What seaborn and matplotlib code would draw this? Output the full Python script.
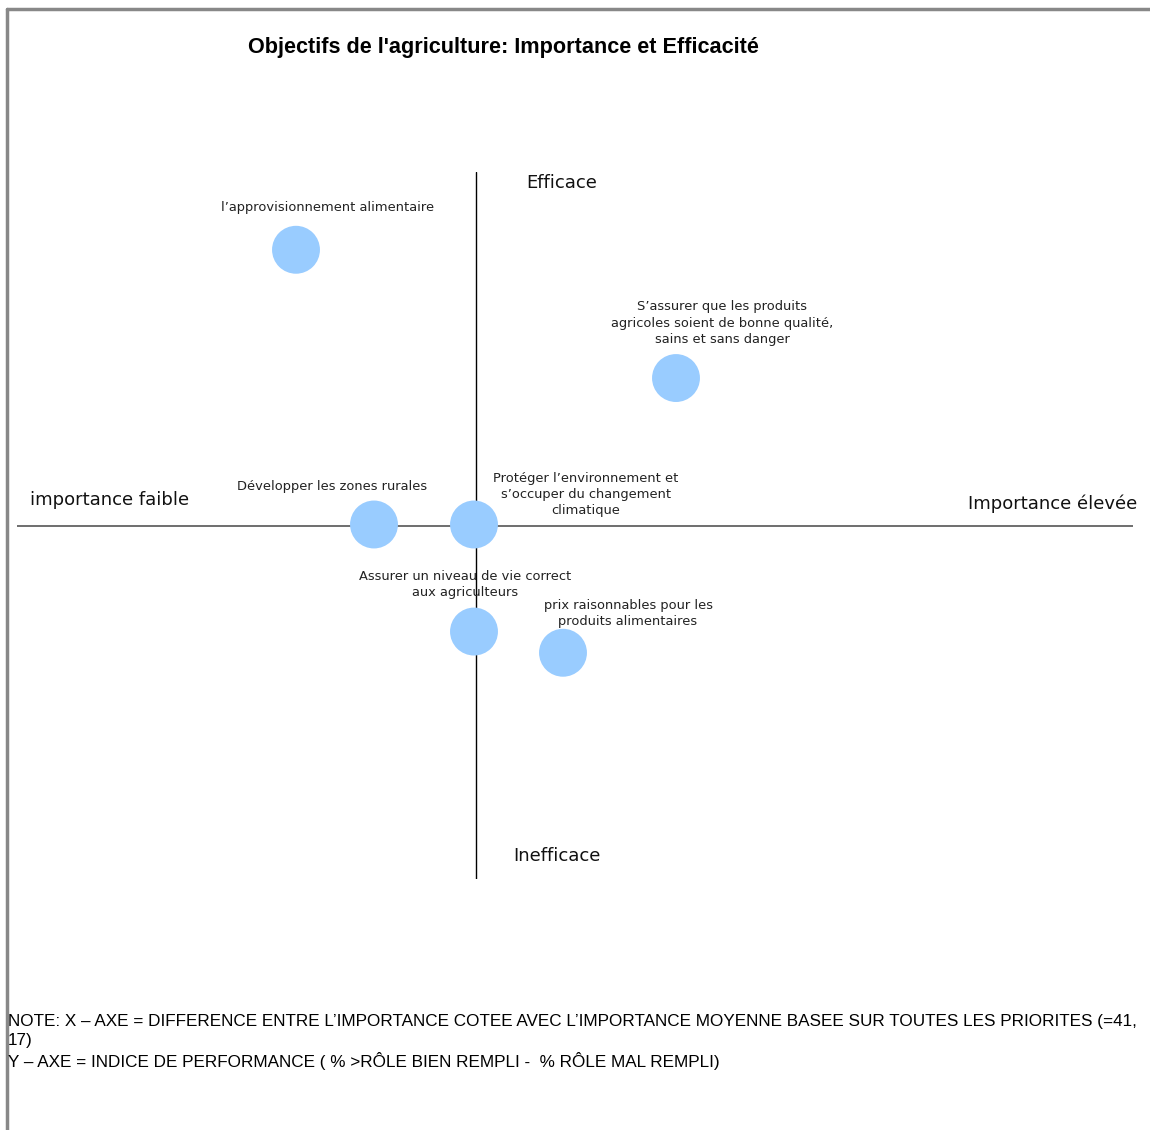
import pandas as pd
import matplotlib.pyplot as plt
import seaborn as sns
from matplotlib.lines import Line2D

# values (x = ecart d'importance, y = indice de performance)
objectifs = [
    "l\u2019approvisionnement alimentaire",
    "S\u2019assurer que les produits\nagricoles soient de bonne qualit\u00e9,\nsains et sans danger",
    "D\u00e9velopper les zones rurales",
    "Prot\u00e9ger l\u2019environnement et\ns\u2019occuper du changement\nclimatique",
    "Assurer un niveau de vie correct\naux agriculteurs",
    "prix raisonnables pour les\nproduits alimentaires",
]
importance = [-9.0, 10.0, -5.1, -0.1, -0.1, 4.35]
performance = [27.3, 14.6, 0.1, 0.1, -10.5, -12.6]

# label offsets in pixels (layout only)
offsets = [(32, 42), (46, 55), (-42, 38), (112, 30), (-9, 47), (65, 39)]

df = pd.DataFrame({'objectif': objectifs, 'x': importance, 'y': performance})

W, H = 1150, 1130
sns.set_style('white')
plt.rcParams['font.family'] = ['DejaVu Sans']
plt.rcParams['text.color'] = '#111111'

fig = plt.figure(figsize=(W / 100, H / 100), dpi=100)
ax = fig.add_axes([17 / W, 1 - 879 / H, (1133 - 17) / W, (879 - 172) / H])

ax.axhline(0, color='#555555', lw=1.2, zorder=1)
ax.axvline(0, color='black', lw=1.0, zorder=1)

sns.scatterplot(data=df, x='x', y='y', ax=ax, s=1190, color='#99ccff',
                edgecolor='none', zorder=3, legend=False)

for (_, row), (dx, dy) in zip(df.iterrows(), offsets):
    ax.annotate(row['objectif'], (row['x'], row['y']), xytext=(dx, dy),
                textcoords='offset pixels', ha='center', va='center',
                fontsize=9.4, color='#222222', linespacing=1.32, zorder=4)

ax.set_xlim(-22.95, 32.85)
ax.set_ylim(-35, 35)
ax.set_xticks([])
ax.set_yticks([])
ax.set_xlabel('')
ax.set_ylabel('')
for sp in ax.spines.values():
    sp.set_visible(False)

def px(x, y):
    return x / W, 1 - y / H

fig.text(*px(503, 48), "Objectifs de l'agriculture: Importance et Efficacit\u00e9",
         ha='center', va='center', fontsize=15.6, fontweight='bold',
         family='Liberation Sans', color='black')
fig.text(*px(562, 183), 'Efficace', ha='center', va='center', fontsize=13)
fig.text(*px(557, 856), 'Inefficace', ha='center', va='center', fontsize=13)
fig.text(*px(110, 500), 'importance faible', ha='center', va='center', fontsize=13)
fig.text(*px(1053, 504), 'Importance \u00e9lev\u00e9e', ha='center', va='center', fontsize=13)

note = ("NOTE: X \u2013 AXE = DIFFERENCE ENTRE L\u2019IMPORTANCE COTEE AVEC L\u2019IMPORTANCE "
        "MOYENNE BASEE SUR TOUTES LES PRIORITES (=41,\n17)\n"
        "Y \u2013 AXE = INDICE DE PERFORMANCE ( % >R\u00d4LE BIEN REMPLI -  % R\u00d4LE MAL REMPLI)")
fig.text(*px(8, 1014), note, ha='left', va='top', fontsize=12.3,
         family='Liberation Sans', linespacing=1.3, color='black')

# grey frame on top and left
fig.add_artist(Line2D([7 / W, 1], [1 - 9 / H, 1 - 9 / H], color='#888888', lw=2.5))
fig.add_artist(Line2D([7 / W, 7 / W], [0, 1 - 9 / H], color='#888888', lw=2.5))

fig.savefig('out.png', dpi=100)
